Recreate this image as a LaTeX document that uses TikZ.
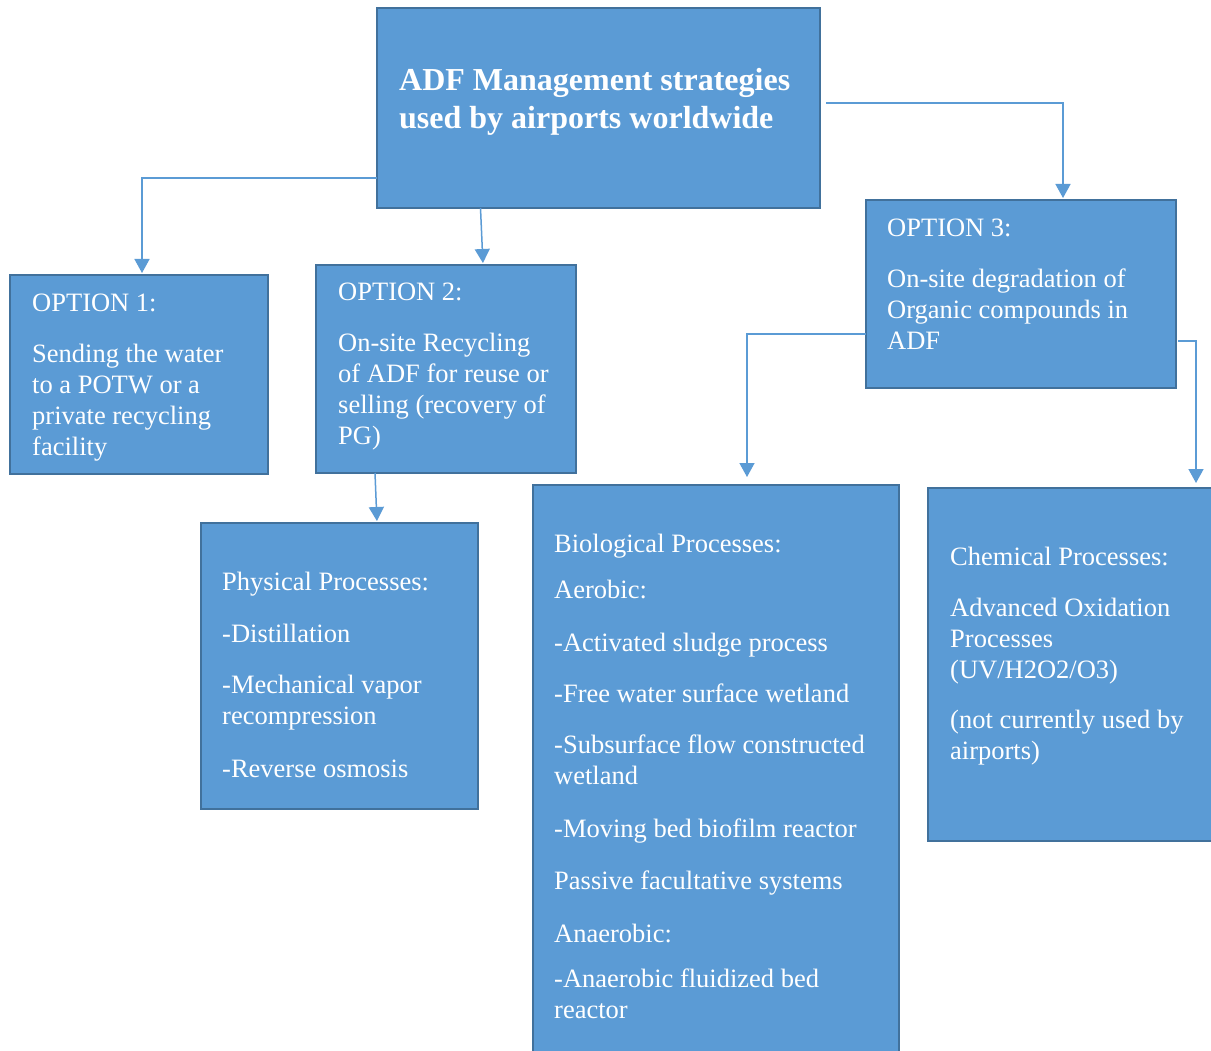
\documentclass[tikz,border=0pt]{standalone}
\usepackage{fontspec}
\setmainfont{Liberation Serif}
\usetikzlibrary{arrows.meta}
\definecolor{boxfill}{HTML}{5B9BD5}
\definecolor{boxline}{HTML}{41719C}
\definecolor{arrcol}{HTML}{5B9BD5}
\begin{document}
\begin{tikzpicture}[x=1pt,y=-1pt,
  box/.style={draw=boxline, fill=boxfill, line width=2.5pt, rectangle, inner sep=0pt, outer sep=0pt, anchor=north west},
  txt/.style={text=white, anchor=north west, inner sep=0pt, align=left, font=\fontsize{26.5}{31}\selectfont},
  ttl/.style={text=white, anchor=north west, inner sep=0pt, align=left, font=\fontsize{32}{38}\selectfont\bfseries},
  arr/.style={draw=arrcol, line width=1.5pt, -{Triangle[width=15pt,length=14pt]}}]
\useasboundingbox (0,0) rectangle (1211,1051);
\clip (0,0) rectangle (1211,1051);
\fill[white] (0,0) rectangle (1211,1051);
% boxes
\node[box, minimum width=443pt, minimum height=200pt] (top) at (377,8) {};
\node[box, minimum width=258pt, minimum height=199pt] (opt1) at (10,275) {};
\node[box, minimum width=260pt, minimum height=208pt] (opt2) at (316,265) {};
\node[box, minimum width=310pt, minimum height=188pt] (opt3) at (866,200) {};
\node[box, minimum width=277pt, minimum height=286pt] (phys) at (201,523) {};
\node[box, minimum width=366pt, minimum height=600pt] (bio) at (533,485) {};
\node[box, minimum width=300pt, minimum height=353pt] (chem) at (928,488) {};
% texts
\node[ttl] (ttop) at (399,65) {\rule{0pt}{25pt}ADF Management strategies\\ used by airports worldwide};
\node[txt] (t1) at (32,291) {\rule{0pt}{20pt}OPTION 1:\\[20pt] Sending the water\\ to a POTW or a\\ private recycling\\ facility};
\node[txt] (t2) at (338,280) {\rule{0pt}{20pt}OPTION 2:\\[20pt] On-site Recycling\\ of ADF for reuse or\\ selling (recovery of\\ PG)};
\node[txt] (t3) at (887,216) {\rule{0pt}{20pt}OPTION 3:\\[20pt] On-site degradation of\\ Organic compounds in\\ ADF};
\node[txt] (tphys) at (222,570) {\rule{0pt}{20pt}Physical Processes:\\[21pt] -Distillation\\[20pt] -Mechanical vapor\\ recompression\\[22pt] -Reverse osmosis};
\node[txt] (tbio) at (554,532) {\rule{0pt}{20pt}Biological Processes:\\[15pt] Aerobic:\\[22pt] -Activated sludge process\\[20pt] -Free water surface wetland\\[20pt] -Subsurface flow constructed\\ wetland\\[22pt] -Moving bed biofilm reactor\\[21pt] Passive facultative systems\\[22pt] Anaerobic:\\[14pt] -Anaerobic fluidized bed\\ reactor};
\node[txt] (tchem) at (950,545) {\rule{0pt}{20pt}Chemical Processes:\\[20pt] Advanced Oxidation\\ Processes\\ (UV/H2O2/O3)\\[19pt] (not currently used by\\ airports)};
% connectors
\draw[arr, shorten >=2pt] ([yshift=-70pt]top.west) -| ([xshift=3pt]opt1.north);
\draw[arr, shorten >=2pt] ([xshift=-118pt]top.south) -- ([xshift=37pt]opt2.north);
\draw[arr, shorten >=2pt] ([xshift=6pt,yshift=5pt]top.east) -| ([xshift=42pt]opt3.north);
\draw[arr, shorten >=8pt] ([yshift=-40pt]opt3.west) -| ([xshift=31pt]bio.north);
\draw[arr, shorten >=5pt] ([xshift=2pt,yshift=-47pt]opt3.east) -| ([xshift=118pt]chem.north);
\draw[arr, shorten >=2pt] ([xshift=-71pt]opt2.south) -- ([xshift=37.5pt]phys.north);
\end{tikzpicture}
\end{document}
